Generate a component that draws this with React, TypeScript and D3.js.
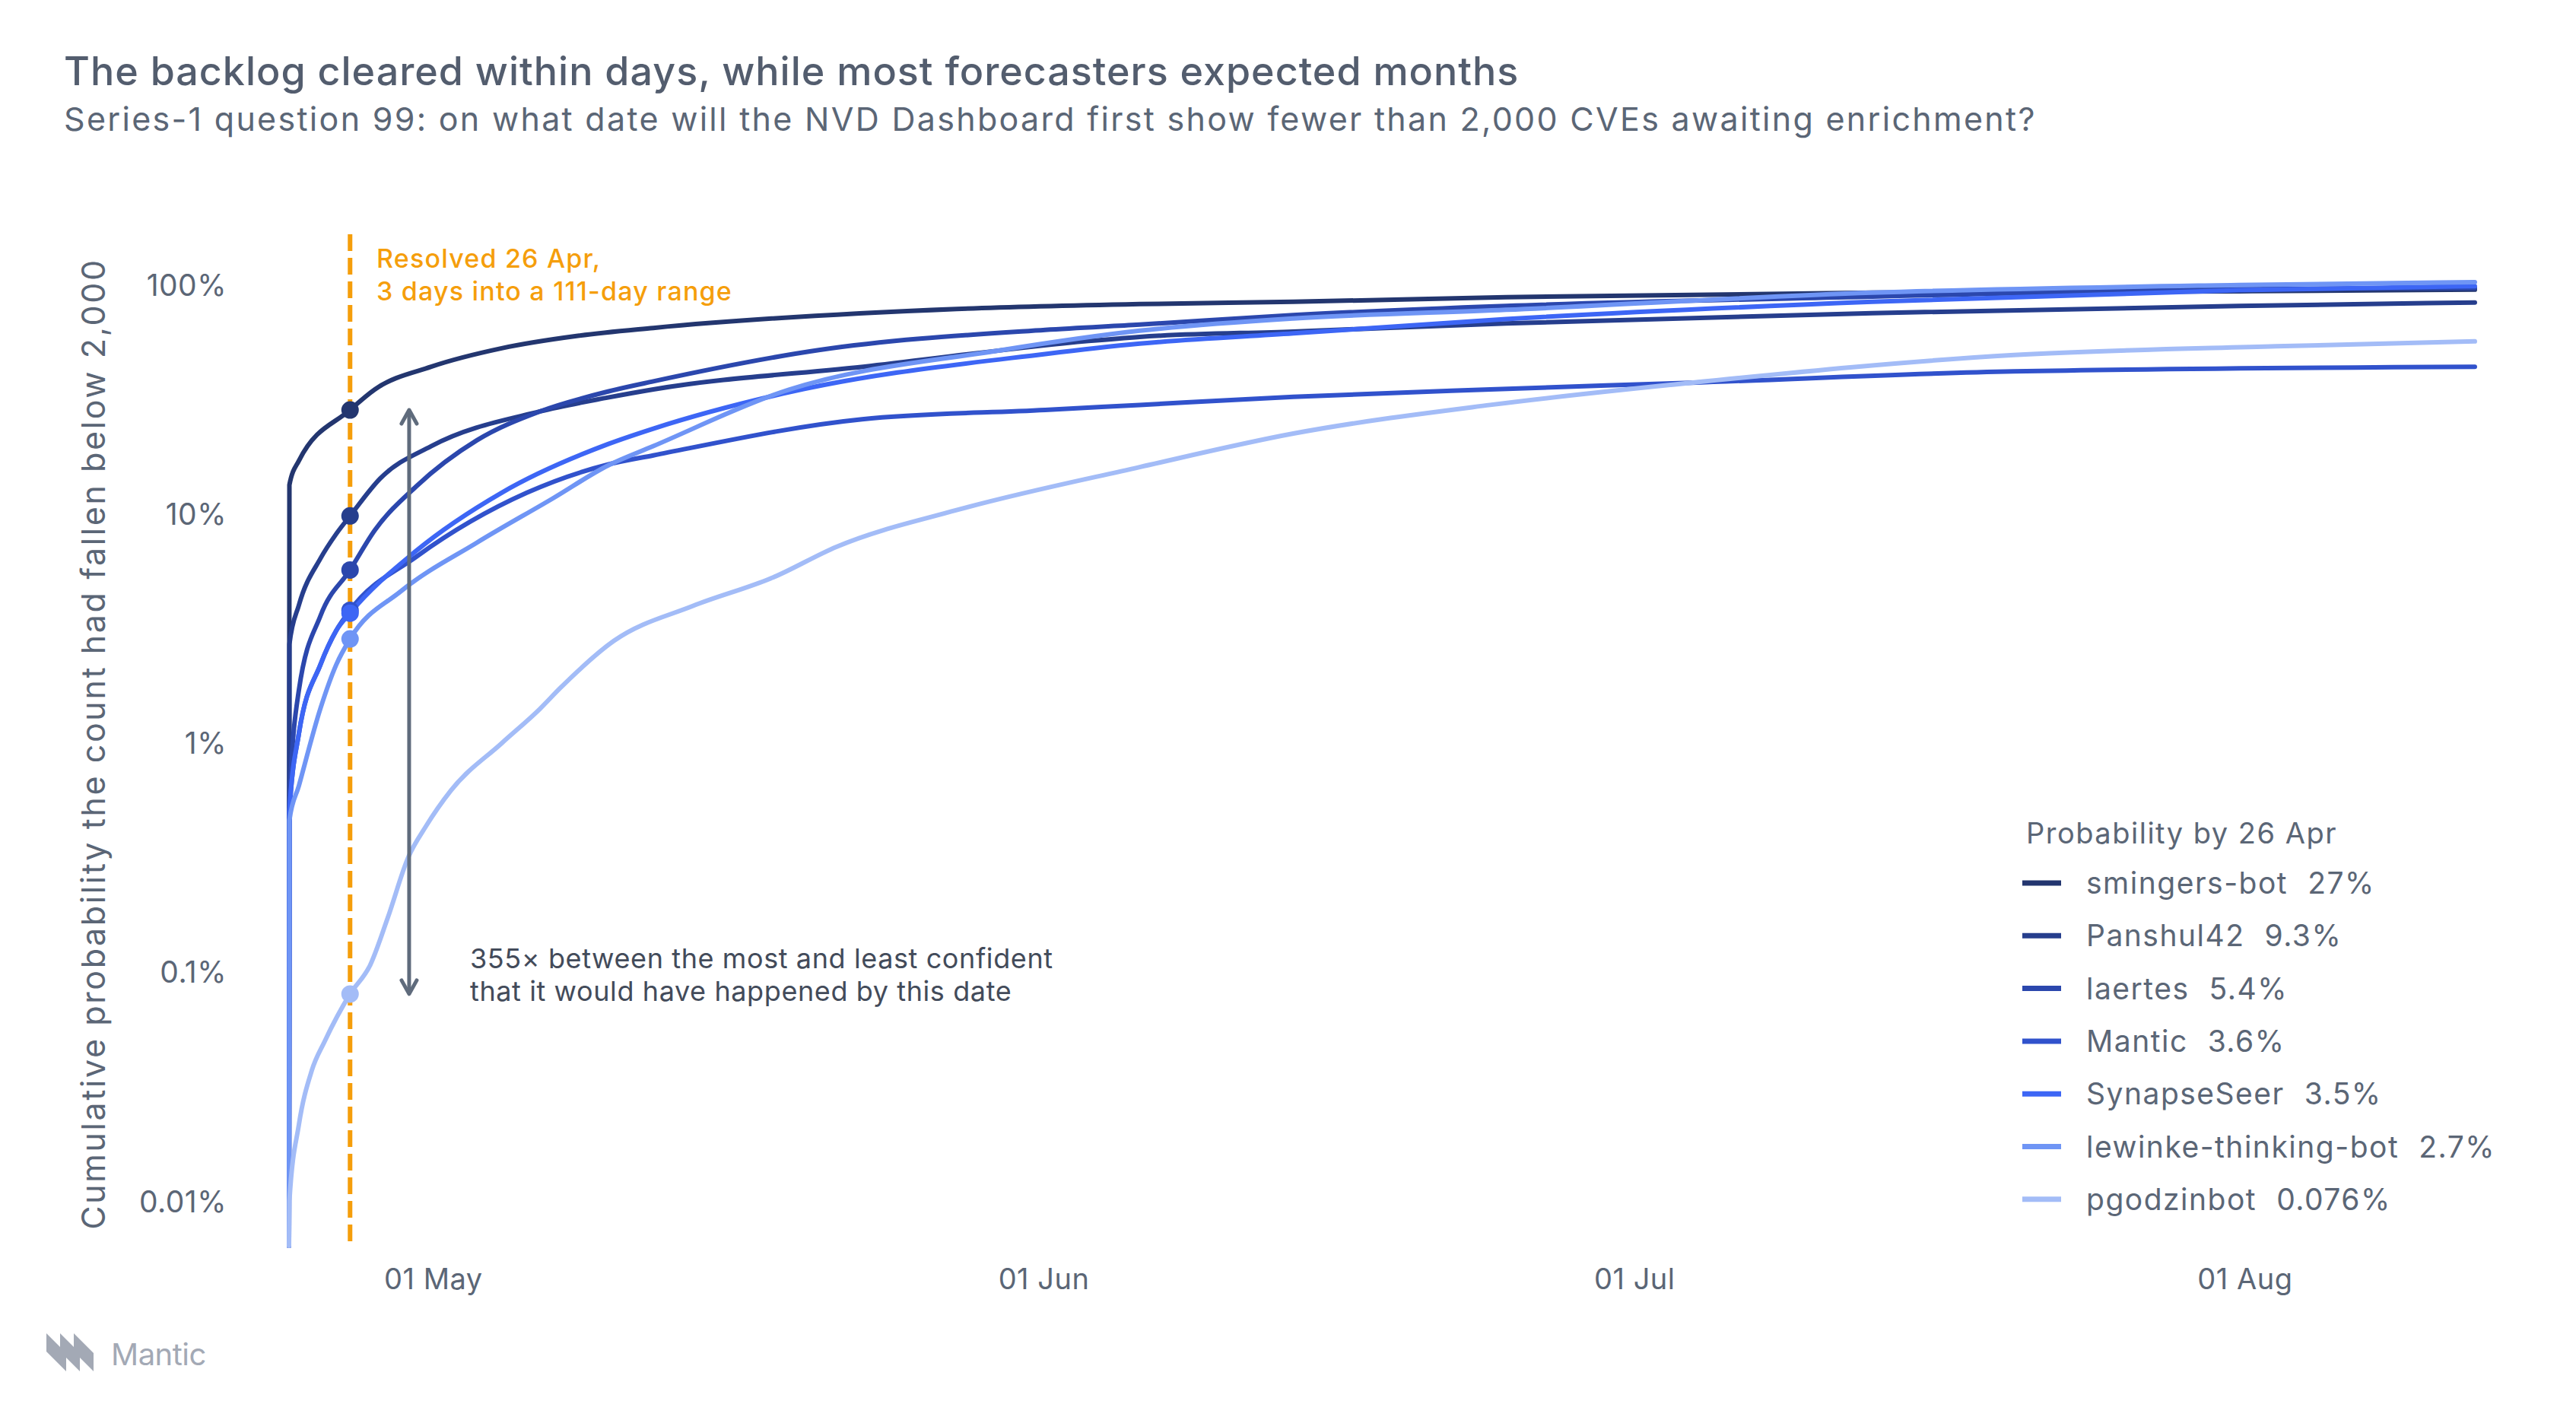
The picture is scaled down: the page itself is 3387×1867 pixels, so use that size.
import React from 'react';
import * as d3 from 'd3';

// question window: 111 days, resolved 3.1 days in
const START = new Date(2025, 3, 23, 16, 0);
const RANGE_DAYS = 111;
const RESOLVED_DAY = 3.1;
const ARROW_DAY = 6.1;

const names = ['smingers-bot', 'Panshul42', 'laertes', 'Mantic', 'SynapseSeer', 'lewinke-thinking-bot', 'pgodzinbot'];
const colors = ['#23366f', '#263e8d', '#2b47ad', '#3152cc', '#3d66f5', '#6f95f5', '#a3bcf7'];
const resolvedProb = [0.27, 0.093, 0.054, 0.036, 0.035, 0.027, 0.00076];
const resolvedLabel = ['27%', '9.3%', '5.4%', '3.6%', '3.5%', '2.7%', '0.076%'];

// [day offset from open, cumulative probability]
const smingersBot = [[0, 1e-6], [0.02, 0.127], [0.5, 0.162], [3.1, 0.27], [4.36, 0.332], [7.22, 0.417], [10.8, 0.502], [14.67, 0.569], [18.5, 0.616], [33.9, 0.745], [43.2, 0.783], [51, 0.801], [61.8, 0.839], [80.4, 0.878], [99, 0.891], [111, 0.905]];
const panshul42 = [[0, 1e-6], [0.02, 0.0256], [0.5, 0.0379], [1.6, 0.0607], [2.4, 0.0777], [3.1, 0.093], [4.63, 0.1355], [7.22, 0.1877], [12.74, 0.266], [16.2, 0.306], [18.5, 0.332], [29.5, 0.42], [40.6, 0.54], [43.2, 0.563], [51, 0.594], [61.8, 0.645], [80.4, 0.715], [99, 0.768], [111, 0.796]];
const laertes = [[0, 1e-6], [0.02, 0.0052], [0.5, 0.0161], [1.6, 0.0341], [3.1, 0.054], [4.36, 0.0806], [6.45, 0.125], [9.54, 0.199], [12.74, 0.266], [16.2, 0.325], [18.5, 0.36], [26.9, 0.493], [38.4, 0.604], [43.2, 0.637], [51, 0.701], [61.8, 0.768], [80.4, 0.844], [99, 0.91], [111, 0.919]];
const mantic = [[0, 1e-6], [0.02, 0.00474], [0.5, 0.0104], [1.6, 0.0209], [2.4, 0.0294], [3.1, 0.036], [6.45, 0.0616], [12.08, 0.1175], [16.2, 0.156], [18.5, 0.171], [29.1, 0.246], [38.4, 0.27], [43.2, 0.284], [51, 0.308], [61, 0.332], [71.2, 0.355], [87.6, 0.398], [111, 0.417]];
const synapseSeer = [[0, 1e-6], [0.02, 0.00474], [0.5, 0.0104], [1.6, 0.0209], [2.4, 0.0294], [3.1, 0.035], [6.45, 0.0654], [10.8, 0.1175], [16.2, 0.1915], [18.5, 0.2237], [25.1, 0.3185], [38.4, 0.474], [43.2, 0.526], [51, 0.583], [61.8, 0.673], [80.4, 0.801], [99, 0.9], [111, 0.938]];
const lewinke = [[0, 1e-6], [0.02, 0.00436], [0.5, 0.00616], [1.6, 0.01346], [2.4, 0.02085], [3.1, 0.027], [5.68, 0.0436], [9.54, 0.0711], [13.4, 0.111], [16.2, 0.1545], [18.5, 0.1877], [25.1, 0.325], [36.2, 0.493], [43.2, 0.599], [51, 0.677], [61.8, 0.739], [80.4, 0.878], [99, 0.948], [111, 0.976]];
const pgodzinbot = [[0, 1e-6], [0.02, 0.0000948], [0.5, 0.000204], [1.16, 0.000353], [1.81, 0.000472], [3.1, 0.00076], [4.13, 0.00102], [5.02, 0.00164], [6.06, 0.00301], [6.95, 0.0041], [8.22, 0.00588], [10.81, 0.00948], [12.74, 0.01336], [13.78, 0.0165], [16.5, 0.0265], [20.5, 0.0376], [24.6, 0.0502], [27.8, 0.0682], [33.9, 0.0986], [43.2, 0.152], [51, 0.213], [61, 0.284], [71.2, 0.355], [87.6, 0.469], [100.9, 0.512], [111, 0.538]];

const seriesData = [smingersBot, panshul42, laertes, mantic, synapseSeer, lewinke, pgodzinbot];

const yTicks = [1e-4, 1e-3, 1e-2, 1e-1, 1];
const yTickLabels = ['0.01%', '0.1%', '1%', '10%', '100%'];

const W = 3387;
const H = 1867;
const FONT = 'Inter, "Noto Sans", sans-serif';
const GREY = '#5b6676';
const ORANGE = '#f59e0b';
const LOGO = '#a3a9b5';

const dayToDate = (d: number) => new Date(START.getTime() + d * 86400000);

export default function App() {
  const x = d3.scaleTime()
    .domain([START, dayToDate(RANGE_DAYS)])
    .range([380, 3254]);
  const y = d3.scaleLog()
    .domain([6.04e-5, 1.58])
    .range([1638, 308])
    .clamp(true);

  const line = d3.line<number[]>()
    .x(d => x(dayToDate(d[0])))
    .y(d => y(d[1]))
    .curve(d3.curveMonotoneX);

  const xTicks = d3.timeMonth.range(d3.timeMonth.ceil(START), dayToDate(RANGE_DAYS));
  const fmt = d3.timeFormat('%d %b');

  const xRes = x(dayToDate(RESOLVED_DAY));
  const xArrow = x(dayToDate(ARROW_DAY));
  const yTop = y(d3.max(resolvedProb)!);
  const yBot = y(d3.min(resolvedProb)!);

  return (
    <svg width={W} height={H} style={{ position: 'absolute', left: 0, top: 0, background: '#fff' }} fontFamily={FONT}>
      <text x={84} y={112} fontSize={52} fontWeight={500} fill="#535d6e" letterSpacing={1}>
        The backlog cleared within days, while most forecasters expected months
      </text>
      <text x={84} y={172} fontSize={43} fill={GREY} letterSpacing={2.3}>
        Series-1 question 99: on what date will the NVD Dashboard first show fewer than 2,000 CVEs awaiting enrichment?
      </text>

      {/* y axis */}
      {yTicks.map((t, i) => (
        <text key={t} x={298} y={y(t)} dy="0.55em" textAnchor="end" fontSize={39} fill={GREY} letterSpacing={0.5}>
          {yTickLabels[i]}
        </text>
      ))}
      <text transform={`translate(123,978) rotate(-90)`} textAnchor="middle" dy="0.35em"
        fontSize={43} fill={GREY} letterSpacing={2.6}>
        Cumulative probability the count had fallen below 2,000
      </text>

      {/* x axis */}
      {xTicks.map(t => (
        <text key={+t} x={x(t)} y={1695} textAnchor="middle" fontSize={38} fill={GREY} letterSpacing={0.5}>
          {fmt(t)}
        </text>
      ))}

      {/* resolution marker */}
      <line x1={xRes} x2={xRes} y1={308} y2={1638} stroke={ORANGE} strokeWidth={6} strokeDasharray="22 9" />
      <text x={495} y={352} fontSize={34} fontWeight={500} fill={ORANGE} letterSpacing={1.2}>Resolved 26 Apr,</text>
      <text x={495} y={395} fontSize={34} fontWeight={500} fill={ORANGE} letterSpacing={1.2}>3 days into a 111-day range</text>

      {/* forecasts */}
      {seriesData.map((s, i) => (
        <path key={names[i]} d={line(s) ?? ''} fill="none" stroke={colors[i]} strokeWidth={6}
          strokeLinejoin="round" strokeLinecap="round" />
      ))}
      {resolvedProb.map((p, i) => (
        <circle key={names[i]} cx={xRes} cy={y(p)} r={11.5} fill={colors[i]} />
      ))}

      {/* spread arrow */}
      <g stroke="#5f6b7c" strokeWidth={5} strokeLinecap="round" strokeLinejoin="round" fill="none">
        <line x1={xArrow} x2={xArrow} y1={yTop + 2} y2={yBot - 2} />
        <polyline points={`${xArrow - 10},${yTop + 18} ${xArrow},${yTop} ${xArrow + 10},${yTop + 18}`} />
        <polyline points={`${xArrow - 10},${yBot - 18} ${xArrow},${yBot} ${xArrow + 10},${yBot - 18}`} />
      </g>
      <text x={618} y={1273} fontSize={36} fill="#434b5a" letterSpacing={0.6}>355× between the most and least confident</text>
      <text x={618} y={1316} fontSize={36} fill="#434b5a" letterSpacing={0.6}>that it would have happened by this date</text>

      {/* legend */}
      <text x={2664} y={1109} fontSize={38} fill={GREY} letterSpacing={1.5}>Probability by 26 Apr</text>
      {names.map((n, i) => {
        const cy = 1161 + i * 69.3;
        return (
          <g key={n}>
            <line x1={2659} x2={2710} y1={cy} y2={cy} stroke={colors[i]} strokeWidth={7} />
            <text x={2743} y={cy + 14} fontSize={39} fill={GREY} letterSpacing={1.5}>
              {n}
              <tspan dx={26}>{resolvedLabel[i]}</tspan>
            </text>
          </g>
        );
      })}

      {/* logo */}
      <g fill={LOGO}>
        {[61, 79, 97].map(x0 => (
          <polygon key={x0} points={`${x0},1753 ${x0 + 26},1779 ${x0 + 26},1803 ${x0},1777`} />
        ))}
      </g>
      <text x={146} y={1795} fontSize={40} fill={LOGO} letterSpacing={-0.5}>Mantic</text>
    </svg>
  );
}
